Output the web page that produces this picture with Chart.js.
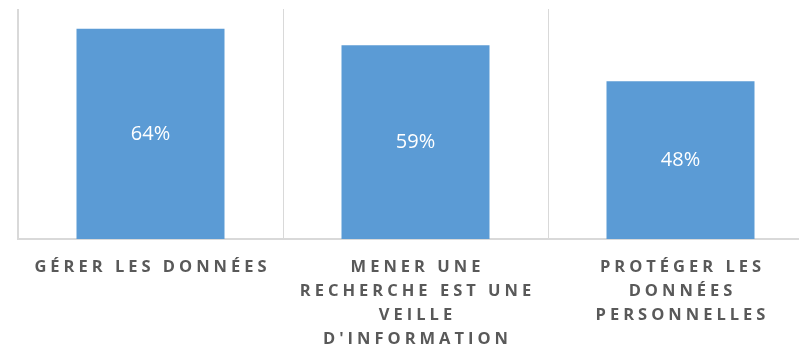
<!DOCTYPE html>
<html>
<head>
<meta charset="utf-8">
<script src="https://cdn.jsdelivr.net/npm/chart.js@4.4.1/dist/chart.umd.min.js"></script>
<style>
  html, body { margin: 0; padding: 0; background: #fff; overflow: hidden; }
  #wrap { width: 814px; height: 354px; }
</style>
</head>
<body>
<div id="wrap"><canvas id="chart1"></canvas></div>
<script>
// catégories (une ligne par élément du tableau)
const categories = [
  ['GÉRER LES DONNÉES'],
  ['MENER UNE', 'RECHERCHE EST UNE', 'VEILLE', "D'INFORMATION"],
  ['PROTÉGER LES', 'DONNÉES', 'PERSONNELLES'],
];
const values = [64, 59, 48];
const valueLabels = ['64%', '59%', '48%'];

const barColor = '#5b9bd5';
const textColor = '#595959';
const gridColor = '#d9d9d9';

// espacement des lettres pour les libellés de l'axe
const letterSpacingPlugin = {
  id: 'letterSpacing',
  beforeDraw(chart) {
    chart.ctx.letterSpacing = '4px';
  },
};

// pourcentage écrit au milieu de chaque barre
const valueLabelPlugin = {
  id: 'valueLabel',
  afterDatasetsDraw(chart) {
    const ctx = chart.ctx;
    const meta = chart.getDatasetMeta(0);
    ctx.save();
    ctx.letterSpacing = '0px';
    ctx.fillStyle = '#ffffff';
    ctx.font = '20px "Open Sans"';
    ctx.textAlign = 'center';
    ctx.textBaseline = 'middle';
    meta.data.forEach(function (bar, i) {
      ctx.fillText(valueLabels[i], bar.x, (bar.y + bar.base) / 2);
    });
    ctx.restore();
  },
};

var ctx = document.getElementById('chart1').getContext('2d');
new Chart(ctx, {
  type: 'bar',
  data: {
    labels: categories,
    datasets: [{
      data: values,
      backgroundColor: barColor,
      borderWidth: 0,
      barPercentage: 1,
      categoryPercentage: 0.5585,
    }],
  },
  options: {
    responsive: true,
    maintainAspectRatio: false,
    animation: false,
    layout: { padding: { left: 18, top: 9, right: 1, bottom: 0 } },
    plugins: {
      legend: { display: false },
      tooltip: { enabled: false },
    },
    scales: {
      x: {
        grid: {
          color: gridColor,
          lineWidth: (c) => (c.index === 0 ? 2 : 1),
          drawTicks: false,
        },
        border: { color: gridColor, width: 2 },
        ticks: {
          color: textColor,
          padding: 16,
          labelOffset: 2,
          maxRotation: 0,
          autoSkip: false,
          font: { family: 'Open Sans', size: 16.5, weight: 'bold', lineHeight: 24.2 / 16.5 },
        },
        afterFit(scale) {
          scale.height = 115;
        },
      },
      y: {
        display: false,
        min: 0,
        max: 70,
      },
    },
  },
  plugins: [letterSpacingPlugin, valueLabelPlugin],
});
</script>
</body>
</html>
